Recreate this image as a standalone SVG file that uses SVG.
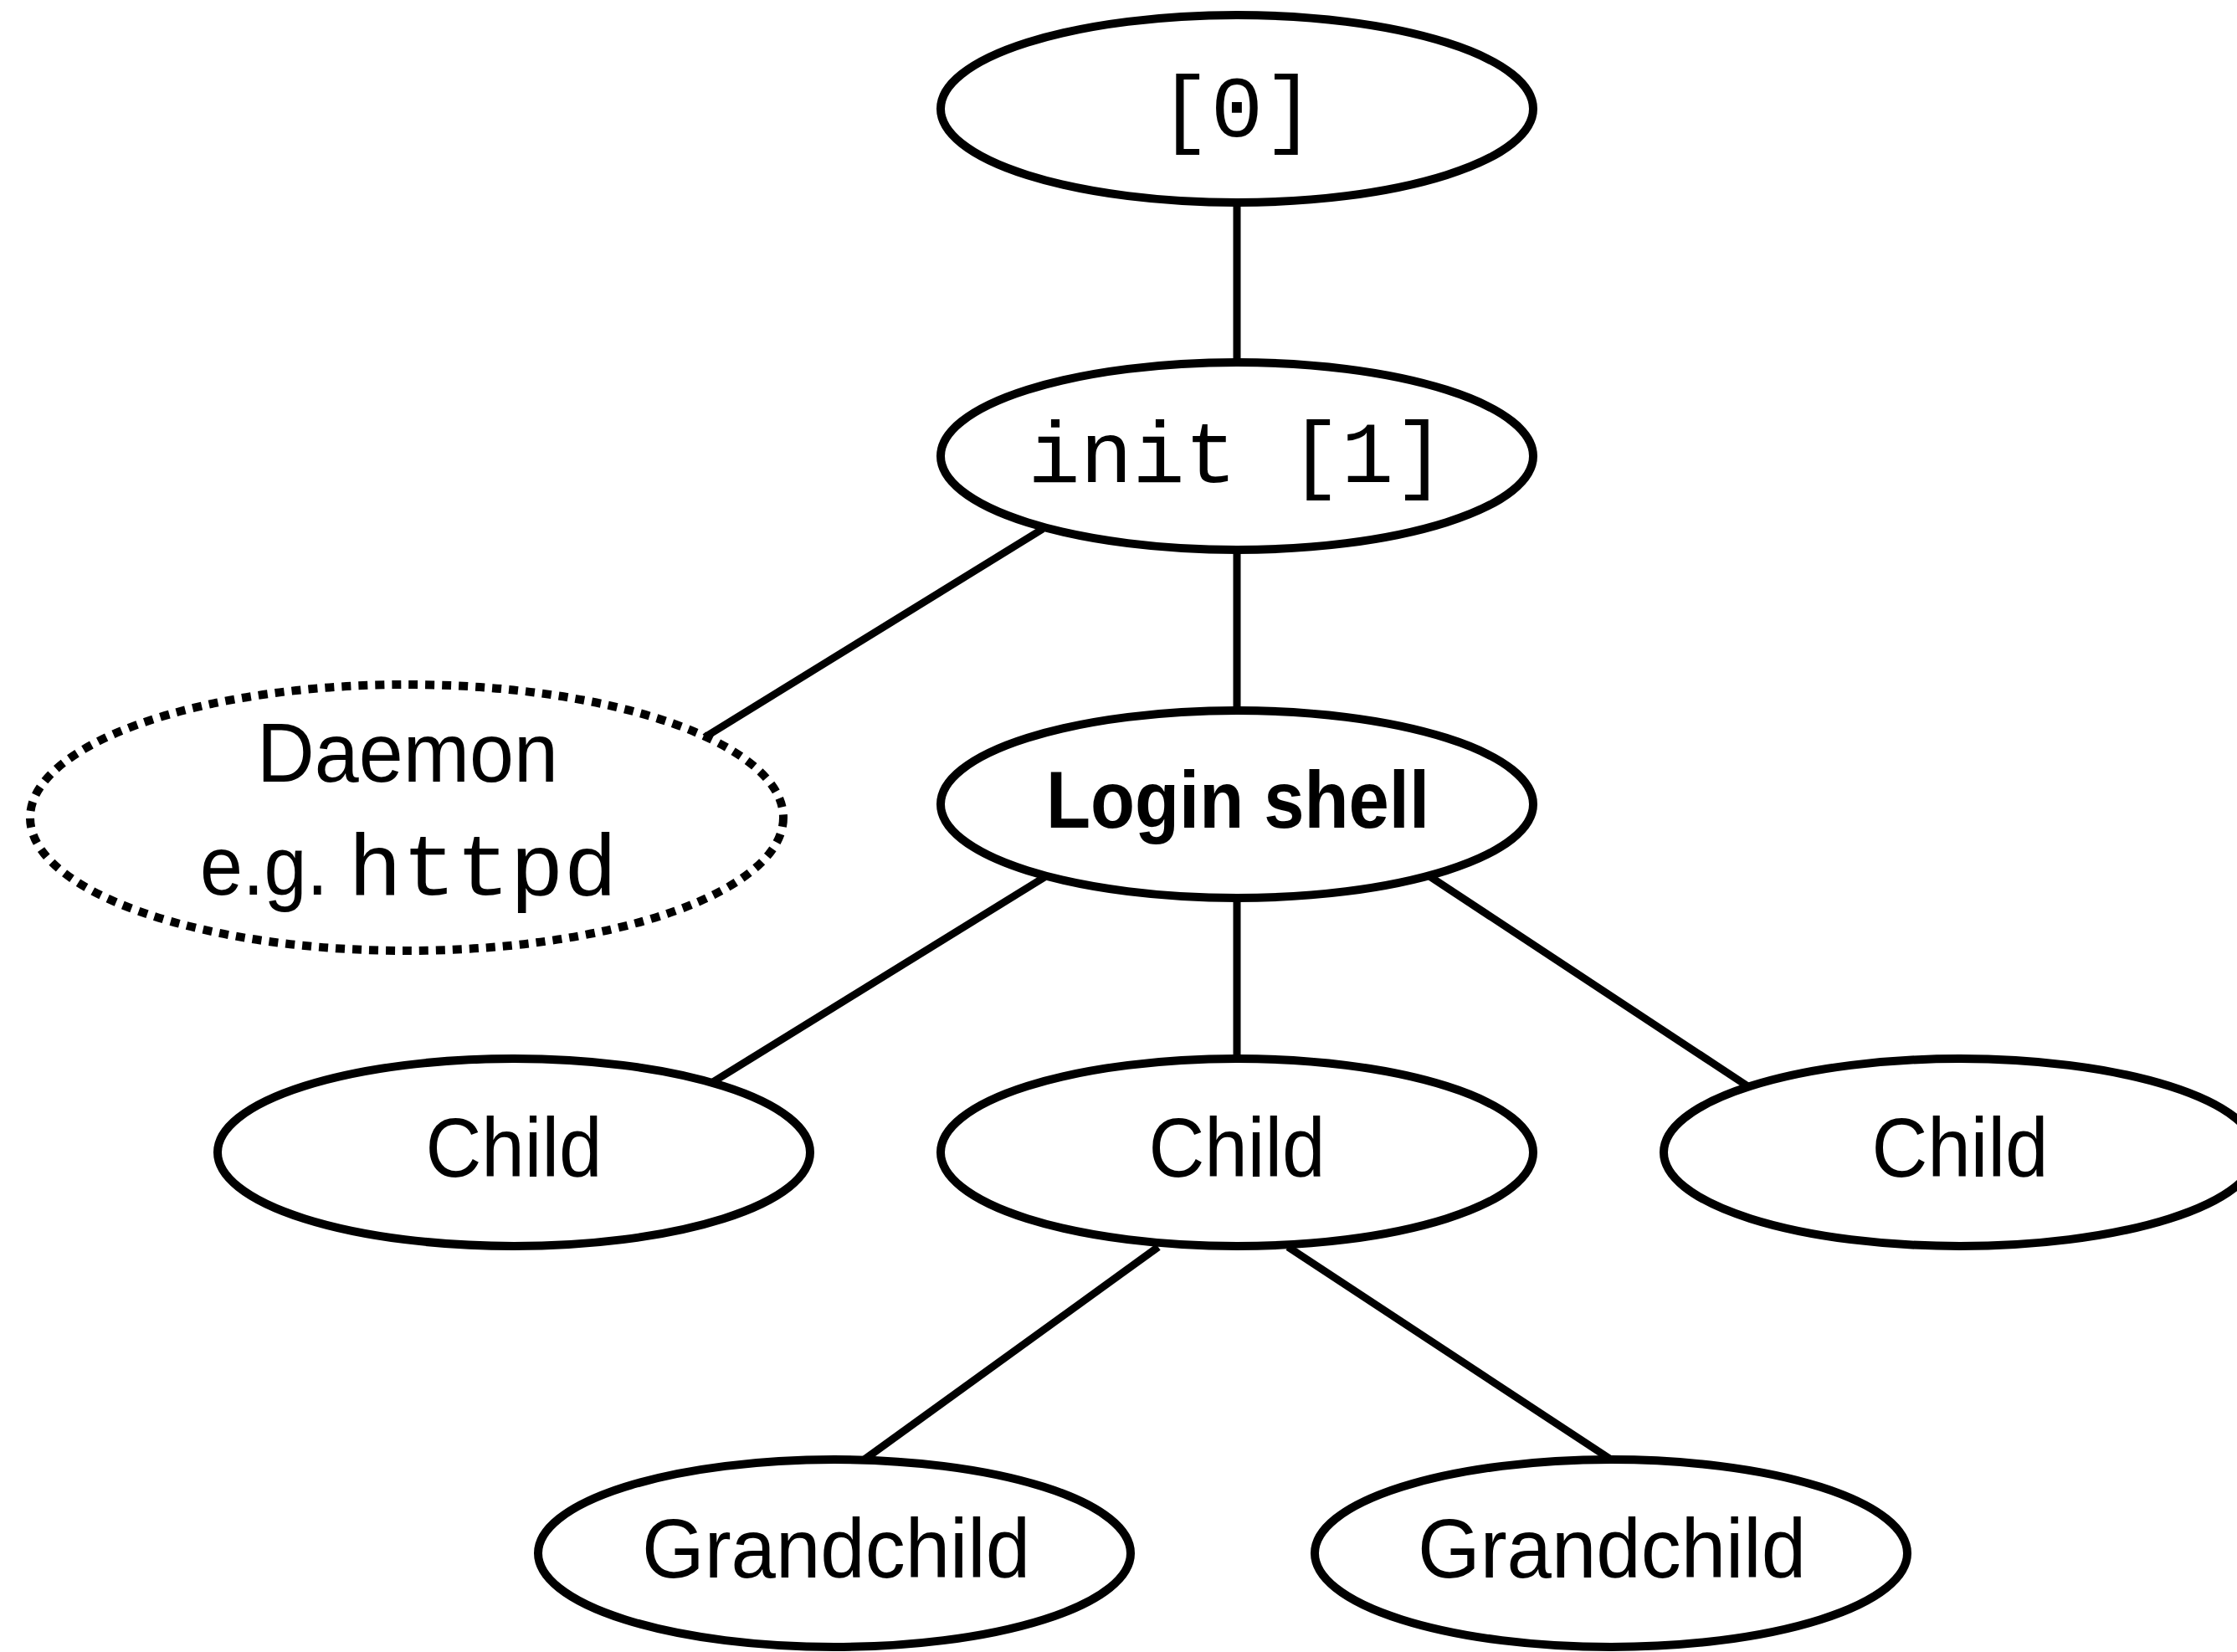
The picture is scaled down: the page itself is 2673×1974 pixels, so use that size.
<svg xmlns="http://www.w3.org/2000/svg" width="2673" height="1974" viewBox="0 0 2673 1974">
<style>
.n{fill:#fff;stroke:#000;stroke-width:10}
.d{fill:#fff;stroke:#000;stroke-width:10;stroke-dasharray:11 9}
.c{stroke:#000;stroke-width:9;fill:none}
.m{font-family:"Liberation Mono","Courier New",monospace;font-size:104px;fill:#000}
.s{font-family:"Liberation Sans",Arial,sans-serif;font-size:100px;fill:#000}
.b{font-family:"Liberation Sans",Arial,sans-serif;font-size:96px;font-weight:bold;fill:#000}
</style>
<rect width="2673" height="1974" fill="#fff"/>
<g id="connectors">
<line class="c" x1="1478" y1="242" x2="1478" y2="433"/>
<line class="c" x1="1246" y1="632" x2="842" y2="881"/>
<line class="c" x1="1478" y1="658" x2="1478" y2="849"/>
<line class="c" x1="1250" y1="1047" x2="842" y2="1299"/>
<line class="c" x1="1478" y1="1074" x2="1478" y2="1265"/>
<line class="c" x1="1708" y1="1047" x2="2090" y2="1299"/>
<line class="c" x1="1384" y1="1490" x2="1030" y2="1746"/>
<line class="c" x1="1539" y1="1490" x2="1928" y2="1746"/>
</g>
<g id="n0"><ellipse class="n" cx="1478" cy="130" rx="354" ry="112"/><text class="m" x="1478" y="163" text-anchor="middle">[0]</text></g>
<g id="init"><ellipse class="n" cx="1478" cy="545" rx="354" ry="112"/><text class="m" x="1478" y="576" text-anchor="middle">init [1]</text></g>
<g id="daemon"><ellipse class="d" cx="486" cy="977" rx="450" ry="159"/><text class="s" x="487" y="934" text-anchor="middle" textLength="360" lengthAdjust="spacingAndGlyphs">Daemon</text><text class="s" x="239" y="1069" textLength="153" lengthAdjust="spacingAndGlyphs">e.g.</text><text class="m" x="416" y="1069" textLength="322" lengthAdjust="spacingAndGlyphs">httpd</text></g>
<g id="login"><ellipse class="n" cx="1478" cy="961" rx="354" ry="112"/><text class="b" x="1479" y="989" text-anchor="middle" textLength="458" lengthAdjust="spacingAndGlyphs">Login shell</text></g>
<g id="child1"><ellipse class="n" cx="614" cy="1377" rx="354" ry="112"/><text class="s" x="614" y="1406" text-anchor="middle" textLength="211" lengthAdjust="spacingAndGlyphs">Child</text></g>
<g id="child2"><ellipse class="n" cx="1478" cy="1377" rx="354" ry="112"/><text class="s" x="1478" y="1406" text-anchor="middle" textLength="211" lengthAdjust="spacingAndGlyphs">Child</text></g>
<g id="child3"><ellipse class="n" cx="2342" cy="1377" rx="354" ry="112"/><text class="s" x="2342" y="1406" text-anchor="middle" textLength="211" lengthAdjust="spacingAndGlyphs">Child</text></g>
<g id="gc1"><ellipse class="n" cx="997" cy="1856" rx="354" ry="112"/><text class="s" x="999" y="1885" text-anchor="middle" textLength="464" lengthAdjust="spacingAndGlyphs">Grandchild</text></g>
<g id="gc2"><ellipse class="n" cx="1925" cy="1856" rx="354" ry="112"/><text class="s" x="1926" y="1885" text-anchor="middle" textLength="464" lengthAdjust="spacingAndGlyphs">Grandchild</text></g>
</svg>
